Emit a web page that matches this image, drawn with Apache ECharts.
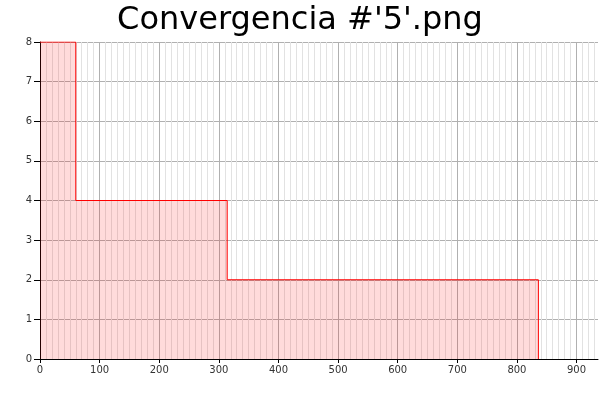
<!DOCTYPE html>
<html><head><meta charset="utf-8">
<script src="https://cdn.jsdelivr.net/npm/echarts@6/dist/echarts.min.js"></script>
<style>html,body{margin:0;padding:0;background:#fff}#c{width:600px;height:400px}</style>
</head><body><div id="c"></div>
<script>
const titleText = "Convergencia #'5'.png";
const stepX = [0, 60, 314, 836];
const stepY = [8, 4, 2, 0];
const xTicks = [0, 100, 200, 300, 400, 500, 600, 700, 800, 900];
const yTicks = [0, 1, 2, 3, 4, 5, 6, 7, 8];

const data = stepX.map((x, i) => [x, stepY[i]]);
const chart = echarts.init(document.getElementById('c'), null, {renderer: 'canvas'});
chart.setOption({
  animation: false,
  title: {text: titleText, left: 'center', top: 0,
    textStyle: {fontFamily: 'DejaVu Sans', fontSize: 32, fontWeight: 'normal', color: '#000'}},
  grid: {left: 40, right: 2, top: 42, bottom: 41},
  xAxis: {type: 'value', min: 0, max: 936, interval: 100,
    axisLine: {lineStyle: {color: '#000', width: 1}},
    axisTick: {show: true, length: 4, lineStyle: {color: '#000'}, customValues: xTicks},
    axisLabel: {fontFamily: 'DejaVu Sans', fontSize: 10, color: '#333', margin: 6,
      customValues: xTicks},
    splitLine: {show: true, lineStyle: {color: '#b0b0b0', width: 1}},
    minorTick: {show: false, splitNumber: 10},
    minorSplitLine: {show: true, lineStyle: {color: '#e2e2e2', width: 1}}},
  yAxis: {type: 'value', min: 0, max: 8, interval: 1,
    axisLine: {show: true, lineStyle: {color: '#000', width: 1}},
    axisTick: {show: true, length: 6, lineStyle: {color: '#000'}},
    axisLabel: {fontFamily: 'DejaVu Sans', fontSize: 10, color: '#333', margin: 8,
      formatter: v => yTicks.includes(v) ? String(v) : ''},
    splitLine: {show: true, lineStyle: {color: '#b0b0b0', width: 1}}},
  series: [{type: 'line', step: 'end', data: data, symbol: 'none',
    lineStyle: {color: '#ff0000', width: 1},
    areaStyle: {color: 'rgba(255,0,0,0.2)', origin: 'start'}}]
});
</script></body></html>
